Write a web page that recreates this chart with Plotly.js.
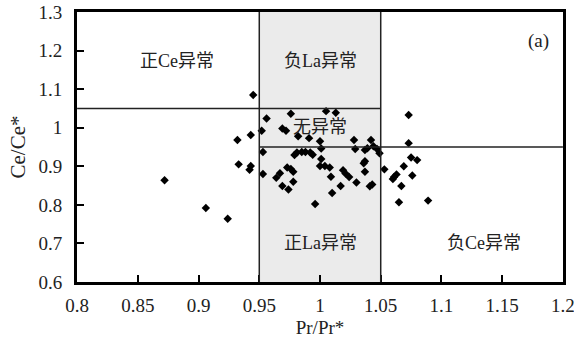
<!DOCTYPE html>
<html>
<head>
<meta charset="utf-8">
<script src="https://cdn.plot.ly/plotly-3.0.1.min.js"></script>
<style>html,body{margin:0;padding:0;background:#fff;}#chart{width:574px;height:343px;}</style>
</head>
<body>
<div id="chart"></div>
<script>
// Pr/Pr* values
const prVals = [
  0.872, 0.906, 0.924, 0.945, 0.932, 0.943, 0.933, 0.943, 0.942,
  0.952, 0.953, 0.953, 0.956, 0.976, 0.969, 0.972, 0.982, 0.991, 1.000,
  1.005, 1.013, 1.028, 1.042, 1.001, 1.029, 1.037, 1.039, 1.044, 1.047, 1.049,
  0.979, 0.981, 0.985, 0.988, 0.992, 0.994, 1.001, 1.037, 1.036,
  0.973, 0.976, 0.978, 0.967, 0.964, 1.000, 1.004, 1.008, 1.019, 1.021, 1.024,
  1.009, 1.037, 0.978, 0.969, 0.974, 1.017, 1.030, 1.041, 1.043, 1.010, 0.996,
  1.053, 1.073, 1.073, 1.075, 1.080, 1.069, 1.063, 1.061, 1.060, 1.076, 1.067, 1.065, 1.089
];
// Ce/Ce* values
const ceVals = [
  0.864, 0.792, 0.764, 1.085, 0.968, 0.981, 0.905, 0.901, 0.891,
  0.992, 0.937, 0.880, 1.024, 1.036, 0.998, 0.992, 0.978, 0.973, 0.965,
  1.043, 1.039, 0.968, 0.968, 0.946, 0.945, 0.942, 0.947, 0.952, 0.945, 0.934,
  0.929, 0.936, 0.937, 0.937, 0.936, 0.930, 0.919, 0.913, 0.908,
  0.897, 0.893, 0.886, 0.882, 0.870, 0.901, 0.901, 0.897, 0.890, 0.881, 0.872,
  0.873, 0.886, 0.860, 0.849, 0.840, 0.849, 0.858, 0.848, 0.853, 0.831, 0.802,
  0.892, 1.033, 0.960, 0.923, 0.916, 0.900, 0.879, 0.872, 0.867, 0.876, 0.849, 0.807, 0.811
];
const xTickVals = [0.8, 0.85, 0.9, 0.95, 1, 1.05, 1.1, 1.15, 1.2];
const xTickText = ['0.8', '0.85', '0.9', '0.95', '1', '1.05', '1.1', '1.15', '1.2'];
const yTickVals = [0.6, 0.7, 0.8, 0.9, 1, 1.1, 1.2, 1.3];
const yTickText = ['0.6', '0.7', '0.8', '0.9', '1', '1.1', '1.2', '1.3'];
const prBounds = [0.95, 1.05];
const ceBounds = [0.95, 1.05];
const regionLabels = ['正Ce异常', '负La异常', '无异常', '正La异常', '负Ce异常', '(a)'];

const serif = "'Liberation Serif', 'Times New Roman', serif";
const cjk = "'Liberation Serif', 'Noto Sans CJK SC', serif";

const trace = {
  x: prVals, y: ceVals, type: 'scatter', mode: 'markers',
  marker: {symbol: 'diamond', size: 6.5, color: '#000'},
  hoverinfo: 'skip', showlegend: false
};

const lineStyle = {color: '#222', width: 1.5};
const shapes = [
  {type: 'rect', xref: 'x', yref: 'y', x0: prBounds[0], x1: prBounds[1], y0: 0.6, y1: 1.3,
   fillcolor: '#ebebeb', line: {width: 0}, layer: 'below'},
  {type: 'line', xref: 'x', yref: 'y', x0: prBounds[0], x1: prBounds[0], y0: 0.6, y1: 1.3, line: lineStyle},
  {type: 'line', xref: 'x', yref: 'y', x0: prBounds[1], x1: prBounds[1], y0: 0.6, y1: 1.3, line: lineStyle},
  {type: 'line', xref: 'x', yref: 'y', x0: 0.8, x1: prBounds[1], y0: ceBounds[1], y1: ceBounds[1], line: lineStyle},
  {type: 'line', xref: 'x', yref: 'y', x0: prBounds[0], x1: 1.2, y0: ceBounds[0], y1: ceBounds[0], line: lineStyle}
];

const annPos = [[0.882, 1.172], [1.0, 1.172], [1.0, 1.003], [1.0, 0.70], [1.135, 0.70], [1.18, 1.226]];
const annotations = regionLabels.map((t, i) => ({
  x: annPos[i][0], y: annPos[i][1], xref: 'x', yref: 'y', text: t, showarrow: false,
  font: {family: cjk, size: i === 5 ? 19 : 18, color: '#222'}
}));

const axisCommon = {
  showgrid: false, zeroline: false, showline: true, mirror: true,
  linecolor: '#000', linewidth: 3, ticks: 'inside', ticklen: 7, tickwidth: 2, tickcolor: '#000',
  ticklabeloverflow: 'allow',
  tickfont: {family: serif, size: 19, color: '#222'}
};

const layout = {
  width: 574, height: 343,
  margin: {l: 77, r: 11, t: 12, b: 61},
  paper_bgcolor: '#fff', plot_bgcolor: '#fff',
  xaxis: Object.assign({}, axisCommon, {
    range: [0.7999, 1.2001], tickvals: xTickVals, ticktext: xTickText, ticklabelstandoff: 4,
    title: {text: 'Pr/Pr*', font: {family: serif, size: 19, color: '#222'}, standoff: 6}
  }),
  yaxis: Object.assign({}, axisCommon, {
    range: [0.6, 1.3], tickvals: yTickVals, ticktext: yTickText, ticklabelstandoff: 8,
    title: {text: 'Ce/Ce*', font: {family: serif, size: 21, color: '#222'}, standoff: 8}
  }),
  shapes: shapes, annotations: annotations
};

Plotly.newPlot('chart', [trace], layout, {staticPlot: true, displayModeBar: false});
</script>
</body>
</html>
